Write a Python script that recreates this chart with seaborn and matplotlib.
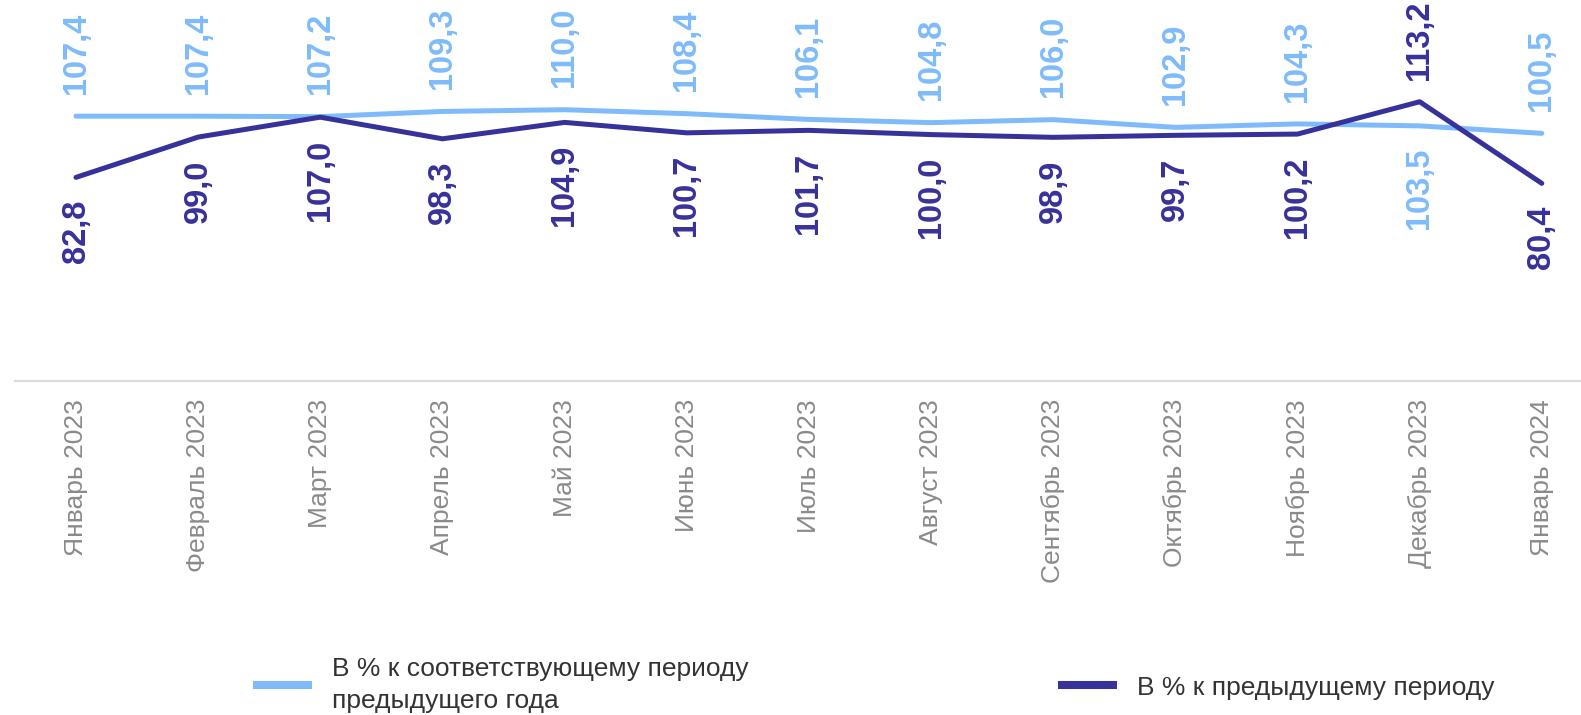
import matplotlib
matplotlib.use("Agg")
import matplotlib.pyplot as plt
import seaborn as sns
import pandas as pd
from matplotlib.lines import Line2D

categories = ["Январь 2023", "Февраль 2023", "Март 2023", "Апрель 2023", "Май 2023",
              "Июнь 2023", "Июль 2023", "Август 2023", "Сентябрь 2023", "Октябрь 2023",
              "Ноябрь 2023", "Декабрь 2023", "Январь 2024"]
yoy_values = [107.4, 107.4, 107.2, 109.3, 110.0, 108.4, 106.1, 104.8, 106.0, 102.9, 104.3, 103.5, 100.5]
mom_values = [82.8, 99.0, 107.0, 98.3, 104.9, 100.7, 101.7, 100.0, 98.9, 99.7, 100.2, 113.2, 80.4]
series_names = ["В % к соответствующему периоду\nпредыдущего года", "В % к предыдущему периоду"]

LIGHT = "#7FBBFA"
DARK = "#37319A"

sns.set_theme(style="white")
plt.rcParams["font.family"] = ["Liberation Sans", "DejaVu Sans"]

rows = []
for i, c in enumerate(categories):
    rows.append({"idx": i, "cat": c, "value": yoy_values[i], "series": series_names[0]})
    rows.append({"idx": i, "cat": c, "value": mom_values[i], "series": series_names[1]})
df = pd.DataFrame(rows)

fig = plt.figure(figsize=(15.81, 7.15), dpi=100)
ax = fig.add_axes([15 / 1581, 1 - 381 / 715, 1 - 15 / 1581, 381 / 715])

sns.lineplot(data=df, x="idx", y="value", hue="series", hue_order=series_names,
             palette=[LIGHT, DARK], linewidth=3.6, ax=ax, legend=False, sort=False)
for ln in ax.get_lines():
    ln.set_solid_joinstyle("round")
    ln.set_solid_capstyle("round")

ax.set_xlim(-0.4994, 12.321)
ax.set_ylim(0.94, 154.1)
ax.set_xticks(range(len(categories)))
ax.set_xticklabels(categories, rotation=90, fontsize=19, color="#8a8a8a", va="top", ha="center")
ax.tick_params(axis="x", length=0, pad=13)
ax.set_yticks([])
ax.set_xlabel("")
ax.set_ylabel("")
for s in ["top", "left", "right"]:
    ax.spines[s].set_visible(False)
ax.spines["bottom"].set_color("#dcdcdc")
ax.spines["bottom"].set_linewidth(1.6)


def fmt(v):
    return f"{v:.1f}".replace(".", ",")


off = 16
for i in range(len(categories)):
    a, b = yoy_values[i], mom_values[i]
    light_up = a >= b
    for v, col, up in [(a, LIGHT, light_up), (b, DARK, not light_up)]:
        ax.annotate(fmt(v), xy=(i, v), xytext=(0, off if up else -off),
                    textcoords="offset points", rotation=90,
                    ha="center", va="bottom" if up else "top",
                    fontsize=23.5, fontweight="bold", color=col)

handles = [Line2D([], [], color=LIGHT, linewidth=5.8, solid_capstyle="butt"),
           Line2D([], [], color=DARK, linewidth=5.8, solid_capstyle="butt")]
leg = fig.legend(handles, series_names, loc="center left",
                 bbox_to_anchor=(253 / 1581, 1 - 685 / 715),
                 ncol=2, frameon=False, fontsize=19, handlelength=2.25, handletextpad=0.75,
                 columnspacing=11.7, borderpad=0, borderaxespad=0, labelcolor="#333333",
                 labelspacing=0.2)
for t in leg.get_texts():
    t.set_linespacing(1.45)

fig.savefig("out.png", dpi=100)
